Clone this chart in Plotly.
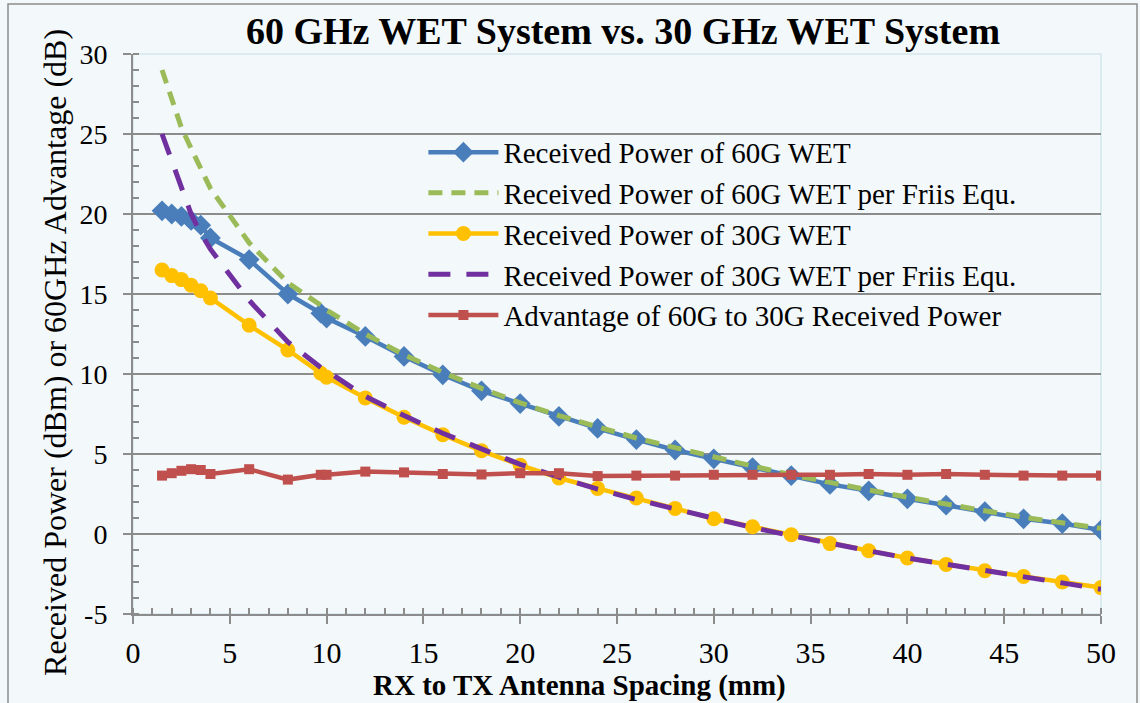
import plotly.graph_objects as go

spacing_mm = [1.5, 2, 2.5, 3, 3.5, 4, 6, 8, 9.7, 10, 12, 14, 16, 18, 20, 22, 24, 26, 28, 30,
              32, 34, 36, 38, 40, 42, 44, 46, 48, 50]
rx60 = [20.2, 20.0, 19.85, 19.6, 19.3, 18.5, 17.15, 15.0, 13.8, 13.5, 12.35, 11.1, 9.95, 8.95, 8.15,
        7.35, 6.6, 5.9, 5.25, 4.7, 4.15, 3.65, 3.1, 2.7, 2.2, 1.8, 1.4, 0.95, 0.65, 0.25]
friis60 = [29.0, 27.1, 25.4, 24.1, 22.8, 21.6, 18.2, 15.7, 14.3, 14.0, 12.5, 11.2, 10.1, 9.1, 8.2,
           7.4, 6.7, 6.0, 5.4, 4.8, 4.25, 3.7, 3.2, 2.75, 2.3, 1.85, 1.45, 1.05, 0.7, 0.35]
rx30 = [16.5, 16.15, 15.9, 15.55, 15.2, 14.75, 13.05, 11.5, 10.05, 9.8, 8.5, 7.3, 6.2, 5.2, 4.3,
        3.5, 2.85, 2.25, 1.6, 0.95, 0.45, -0.05, -0.6, -1.05, -1.5, -1.9, -2.3, -2.65, -3.0, -3.35]
friis30 = [25.0, 23.4, 21.7, 20.0, 18.8, 17.8, 14.6, 12.0, 10.4, 10.2, 8.6, 7.4, 6.3, 5.3, 4.35,
           3.55, 2.8, 2.15, 1.55, 0.95, 0.4, -0.1, -0.6, -1.05, -1.5, -1.9, -2.3, -2.7, -3.05, -3.45]
advantage = [3.65, 3.8, 3.95, 4.05, 4.0, 3.75, 4.05, 3.4, 3.7, 3.7, 3.9, 3.85, 3.75, 3.72, 3.8,
             3.8, 3.62, 3.65, 3.65, 3.7, 3.7, 3.7, 3.7, 3.75, 3.7, 3.75, 3.7, 3.65, 3.65, 3.65]

names = ["Received Power of 60G WET",
         "Received Power of 60G WET per Friis Equ.",
         "Received Power of 30G WET",
         "Received Power of 30G WET per Friis Equ.",
         "Advantage of 60G to 30G Received Power"]

y_tick_vals = [-5, 0, 5, 10, 15, 20, 25, 30]
y_tick_text = ["-5", "0", "5", "10", "15", "20", "25", "30"]

SERIF = "Liberation Serif"
BG = "#f3f8fa"
GRID = "#8c8c8c"

fig = go.Figure()
fig.add_trace(go.Scatter(x=spacing_mm, y=rx60, name=names[0], mode="lines+markers",
                         line=dict(color="#4a7ebb", width=4.5),
                         marker=dict(symbol="diamond", size=16, color="#4a7ebb")))
fig.add_trace(go.Scatter(x=spacing_mm, y=friis60, name=names[1], mode="lines",
                         line=dict(color="#9bbb59", width=5, dash="14px,9px")))
fig.add_trace(go.Scatter(x=spacing_mm, y=rx30, name=names[2], mode="lines+markers",
                         line=dict(color="#ffc000", width=4.5),
                         marker=dict(symbol="circle", size=15, color="#ffc000")))
fig.add_trace(go.Scatter(x=spacing_mm, y=friis30, name=names[3], mode="lines",
                         line=dict(color="#7030a0", width=5, dash="22px,16px")))
fig.add_trace(go.Scatter(x=spacing_mm, y=advantage, name=names[4], mode="lines+markers",
                         line=dict(color="#c0504d", width=4.5),
                         marker=dict(symbol="square", size=10, color="#c0504d")))

fig.update_layout(
    width=1140, height=703,
    margin=dict(l=133, r=39, t=54, b=89),
    paper_bgcolor=BG, plot_bgcolor=BG,
    font=dict(family=SERIF, color="#000000", size=28),
    title=dict(text="<b>60 GHz WET System vs. 30 GHz WET System</b>",
               x=0.5465, xanchor="center", y=0.956, yanchor="middle",
               font=dict(family=SERIF, size=38, color="#000000")),
    showlegend=True,
    legend=dict(x=0.30, xanchor="left", y=0.87, yanchor="top",
                bgcolor="rgba(0,0,0,0)", borderwidth=0,
                font=dict(family=SERIF, size=29, color="#000000"),
                itemwidth=70),
    xaxis=dict(range=[0, 50], dtick=5, tick0=0, showgrid=False, automargin=False,
               showline=True, linecolor=GRID, linewidth=2,
               ticks="outside", ticklen=8, tickwidth=2, tickcolor=GRID,
               minor=dict(dtick=1, ticks="inside", ticklen=6, tickwidth=1.5, tickcolor=GRID),
               tickfont=dict(family=SERIF, size=30), zeroline=False, ticklabelstandoff=3),
    yaxis=dict(range=[-5, 30], tickvals=y_tick_vals, ticktext=y_tick_text, automargin=False,
               showgrid=True, gridcolor=GRID, gridwidth=2,
               showline=True, linecolor=GRID, linewidth=2,
               ticks="outside", ticklen=8, tickwidth=2, tickcolor=GRID,
               minor=dict(dtick=1, tick0=0, ticks="inside", ticklen=6, tickwidth=1.5,
                          tickcolor=GRID, showgrid=False),
               tickfont=dict(family=SERIF, size=28), zeroline=False, ticklabelstandoff=10),
    annotations=[
        dict(text="Received Power (dBm) or 60GHz Advantage (dB)", textangle=-90,
             xref="paper", yref="paper", x=-0.0806, y=0.468,
             xanchor="center", yanchor="middle", showarrow=False,
             font=dict(family=SERIF, size=32, color="#000000")),
        dict(text="<b>RX to TX Antenna Spacing (mm)</b>",
             xref="paper", yref="paper", x=0.461, y=-0.1285,
             xanchor="center", yanchor="middle", showarrow=False,
             font=dict(family=SERIF, size=29, color="#000000")),
    ],
    shapes=[
        dict(type="rect", xref="paper", yref="paper", x0=0, x1=1, y0=0, y1=1,
             line=dict(color="#d5e6ec", width=1.5), layer="below"),
        dict(type="rect", xref="paper", yref="paper",
             x0=-125/968, x1=1 + 36/968, y0=-100/560, y1=1 + 50/560,
             line=dict(color="#8c8c8c", width=1.5), layer="below"),
    ],
)

fig.write_html("out.html")
